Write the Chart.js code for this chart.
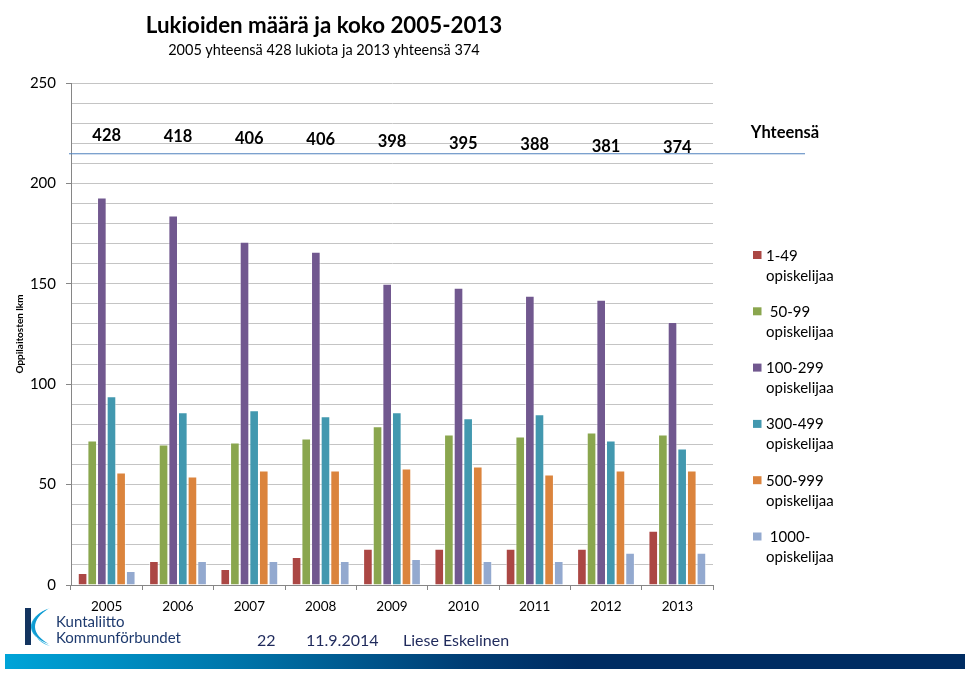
<!DOCTYPE html>
<html>
<head>
    <title>Lukioiden määrä ja koko 2005-2013</title>
    <script src="https://cdn.jsdelivr.net/npm/chart.js"></script>
    <style>
        body {
            margin: 0;
            padding: 0;
            background-color: #fff;
            font-family: Lato, "Noto Sans", sans-serif;
        }
        #page {
            position: relative;
            width: 980px;
            height: 685px;
            overflow: hidden;
        }
        #chartBox {
            position: absolute;
            left: 0;
            top: 0;
            width: 980px;
            height: 630px;
        }
        .title {
            position: absolute;
            left: 0;
            width: 648px;
            text-align: center;
            color: #000;
        }
        #mainTitle { top: 11px; font-size: 22.3px; font-weight: bold; }
        #subTitle { top: 41px; font-size: 14.5px; }
        #logoText {
            position: absolute;
            left: 56px;
            top: 613px;
            font-size: 15px;
            line-height: 16px;
            color: #1e3a6e;
        }
        .foot {
            position: absolute;
            top: 630px;
            font-size: 16px;
            color: #1f2a5c;
        }
        #band {
            position: absolute;
            left: 5px;
            top: 654px;
            width: 960px;
            height: 15px;
            background: linear-gradient(to right, #00a4d8 0%, #0073a8 25%, #003d74 48%, #002c62 60%, #002c62 100%);
        }
    </style>
</head>
<body>
<div id="page">
    <div id="chartBox"><canvas id="myChart" width="980" height="630"></canvas></div>
    <div class="title" id="mainTitle">Lukioiden määrä ja koko 2005-2013</div>
    <div class="title" id="subTitle">2005 yhteensä 428 lukiota ja 2013 yhteensä 374</div>

    <svg style="position:absolute;left:20px;top:606px" width="36" height="42">
        <rect x="5" y="2" width="6" height="37" fill="#13345f"/>
        <path d="M30 2 C18 6 10 14 11 22 C12 30 22 36 30 40 C22 38 14 32 13 22 C13 14 20 6 30 2 Z" fill="#26b3e3"/>
        <path d="M28 3 C20 8 15 14 15 21 C15 28 22 34 29 38 C20 35 12 29 12 21 C12 13 19 6 28 3 Z" fill="#0f9bd2"/>
    </svg>
    <div id="logoText">Kuntaliitto<br>Kommunförbundet</div>
    <div class="foot" style="left:257px">22</div>
    <div class="foot" style="left:306px">11.9.2014</div>
    <div class="foot" style="left:403px">Liese Eskelinen</div>
    <div id="band"></div>
</div>

<script>
    // data
    var years = ['2005', '2006', '2007', '2008', '2009', '2010', '2011', '2012', '2013'];
    var size1_49 = [6, 12, 8, 14, 18, 18, 18, 18, 27];
    var size50_99 = [72, 70, 71, 73, 79, 75, 74, 76, 75];
    var size100_299 = [193, 184, 171, 166, 150, 148, 144, 142, 131];
    var size300_499 = [94, 86, 87, 84, 86, 83, 85, 72, 68];
    var size500_999 = [56, 54, 57, 57, 58, 59, 55, 57, 57];
    var size1000 = [7, 12, 12, 12, 13, 12, 12, 16, 16];
    var totals = [428, 418, 406, 406, 398, 395, 388, 381, 374];
    var totalLabel = 'Yhteensä';
    var totalLineValue = 215;
    var seriesLabels = ['1-49\nopiskelijaa', ' 50-99\nopiskelijaa', '100-299\nopiskelijaa',
        '300-499\nopiskelijaa', '500-999\nopiskelijaa', ' 1000-\nopiskelijaa'];
    var seriesColors = ['#ab4744', '#8aa64e', '#71588f', '#4298af', '#db843d', '#93a9cf'];

    var seriesData = [size1_49, size50_99, size100_299, size300_499, size500_999, size1000];
    var datasets = [];
    for (var i = 0; i < seriesData.length; i++) {
        datasets.push({
            label: seriesLabels[i],
            data: seriesData[i],
            backgroundColor: seriesColors[i],
            borderColor: 'rgba(255,255,255,0.55)',
            borderWidth: 1,
            categoryPercentage: 0.81,
            barPercentage: 1
        });
    }

    // totals row, blue line and the two-line legend on the right
    var extras = {
        id: 'extras',
        afterDraw: function (chart) {
            var ctx = chart.ctx;
            var x = chart.scales.x;
            var y = chart.scales.y;
            ctx.save();

            var ly = y.getPixelForValue(totalLineValue);
            ctx.strokeStyle = '#4f81bd';
            ctx.lineWidth = 1;
            ctx.beginPath();
            ctx.moveTo(chart.chartArea.left - 2, ly + 0.5);
            ctx.lineTo(805, ly + 0.5);
            ctx.stroke();

            ctx.fillStyle = '#000';
            ctx.font = 'bold 16.5px Lato, "Noto Sans", sans-serif';
            ctx.textAlign = 'center';
            ctx.textBaseline = 'middle';
            for (var i = 0; i < totals.length; i++) {
                ctx.fillText(totals[i], x.getPixelForValue(i), y.getPixelForValue(224 - i * 0.8));
            }
            ctx.fillText(totalLabel, 785, y.getPixelForValue(225.5));

            ctx.font = '15px Lato, "Noto Sans", sans-serif';
            ctx.textAlign = 'left';
            ctx.textBaseline = 'alphabetic';
            var ds = chart.data.datasets;
            for (var j = 0; j < ds.length; j++) {
                var top = 251 + j * 56.3;
                ctx.fillStyle = ds[j].backgroundColor;
                ctx.fillRect(753, top, 8.5, 8);
                ctx.fillStyle = '#000';
                var lines = ds[j].label.split('\n');
                ctx.fillText(lines[0], 766, top + 9.5);
                ctx.fillText(lines[1], 766, top + 29.5);
            }
            ctx.restore();
        }
    };

    var ctx = document.getElementById('myChart').getContext('2d');
    var myChart = new Chart(ctx, {
        type: 'bar',
        data: {
            labels: years,
            datasets: datasets
        },
        plugins: [extras],
        options: {
            responsive: false,
            animation: false,
            layout: {
                padding: { top: 83, right: 267, bottom: 15, left: 0 }
            },
            plugins: {
                legend: { display: false },
                tooltip: { enabled: false }
            },
            scales: {
                x: {
                    grid: {
                        drawOnChartArea: false,
                        tickLength: 5,
                        tickColor: '#868686'
                    },
                    border: { color: '#868686' },
                    ticks: {
                        color: '#000',
                        padding: 9,
                        font: { family: 'Lato', size: 13.5 }
                    },
                    afterFit: function (s) { s.height = 30; }
                },
                y: {
                    min: 0,
                    max: 250,
                    grid: {
                        color: '#c4c4c4',
                        lineWidth: 1,
                        tickLength: 5,
                        tickColor: function (c) {
                            return c.tick && c.tick.value % 50 === 0 ? '#868686' : 'rgba(0,0,0,0)';
                        }
                    },
                    border: { color: '#868686' },
                    ticks: {
                        stepSize: 10,
                        autoSkip: false,
                        color: '#000',
                        padding: 10,
                        font: { family: 'Lato', size: 15 },
                        callback: function (v) { return v % 50 === 0 ? v : ''; }
                    },
                    title: {
                        display: true,
                        text: 'Oppilaitosten lkm',
                        color: '#000',
                        padding: { top: 14, bottom: 0 },
                        font: { family: 'Lato', size: 10, weight: 'bold' }
                    },
                    afterFit: function (s) { s.width = 71; }
                }
            }
        }
    });
</script>
</body>
</html>
